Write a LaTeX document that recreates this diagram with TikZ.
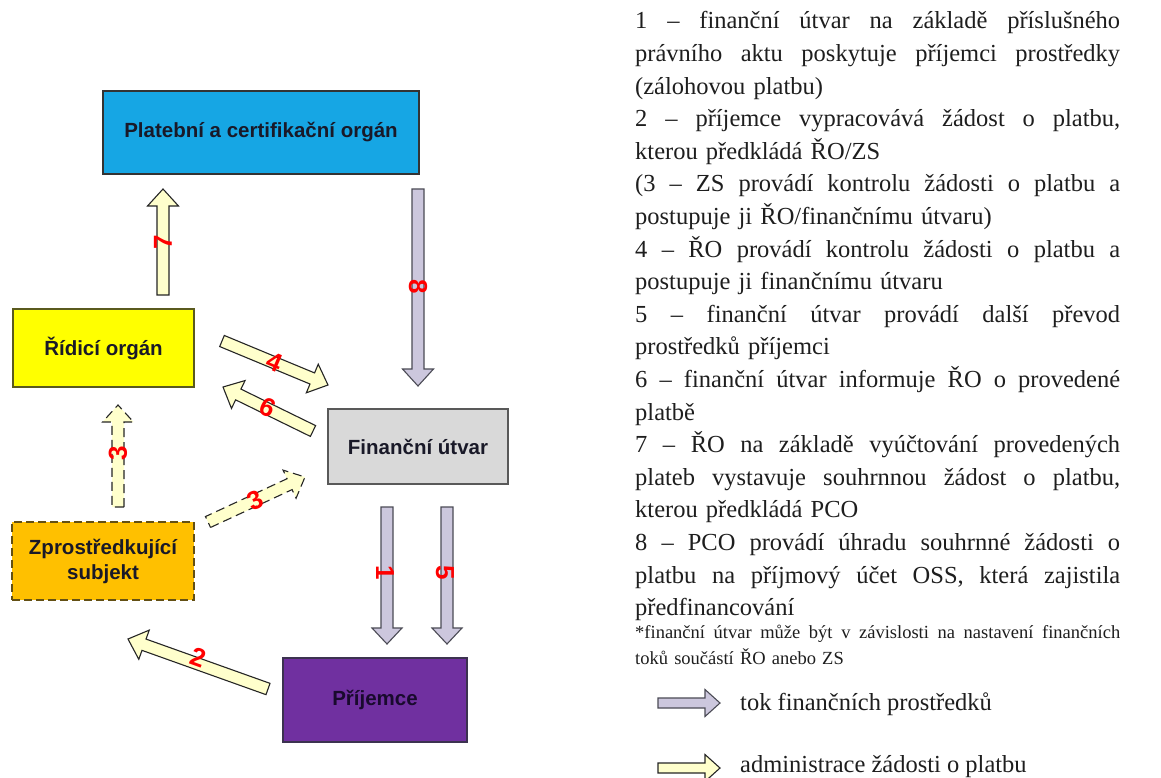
\documentclass[tikz,border=0pt]{standalone}
\usepackage{fontspec}
\setmainfont{Liberation Serif}
\newfontfamily\arialf{Liberation Sans}
\usetikzlibrary{calc}
\definecolor{pcofill}{RGB}{22,166,228}
\definecolor{rofill}{RGB}{255,255,0}
\definecolor{roline}{RGB}{90,90,30}
\definecolor{fufill}{RGB}{217,217,217}
\definecolor{zsfill}{RGB}{255,192,0}
\definecolor{zsline}{RGB}{100,80,20}
\definecolor{prfill}{RGB}{112,48,160}
\definecolor{prline}{RGB}{60,50,80}
\definecolor{prtext}{RGB}{25,10,45}
\definecolor{yarrow}{RGB}{255,255,204}
\definecolor{garrow}{RGB}{204,199,221}
\definecolor{garrowline}{RGB}{75,75,85}
\definecolor{boxtext}{RGB}{25,25,40}
\definecolor{bodytext}{RGB}{30,30,30}
\newcommand\blockarrow[6]{%
  \path let \p1=(#2), \p2=(#3) in \pgfextra{%
    \pgfmathsetmacro\BAang{atan2(\y2-\y1,\x2-\x1)}%
    \pgfmathsetmacro\BAlen{veclen(\x2-\x1,\y2-\y1)}%
    \xdef\BAang{\BAang}\xdef\BAlen{\BAlen}}; 
  \draw[#1, shift={(#2)}, rotate=\BAang]
    (0pt,-#4pt) -- ({(\BAlen-#6)*1pt},-#4pt) -- ({(\BAlen-#6)*1pt},-#5pt)
    -- ({\BAlen*1pt},0pt) -- ({(\BAlen-#6)*1pt},#5pt) -- ({(\BAlen-#6)*1pt},#4pt)
    -- (0pt,#4pt) -- cycle;
}
\newcommand\jline[1]{\noindent\hbox to 485pt{\spaceskip=0.25em plus 1fil\relax #1}\par}
\newcommand\lastline[1]{\noindent\hbox{#1}\par}
\begin{document}
\begin{tikzpicture}[x=1pt,y=-1pt,
  box/.style={draw, line width=1.3pt, inner sep=0pt, align=center, text=boxtext,
    font=\arialf\bfseries\fontsize{20.5}{25}\selectfont},
  yarr/.style={fill=yarrow, draw=black!85, line width=1.1pt, line join=miter},
  yarrdash/.style={yarr, dash pattern=on 9pt off 5pt},
  garr/.style={fill=garrow, draw=garrowline, line width=1.1pt, line join=miter},
  lbl/.style={text=red, inner sep=0pt, font=\arialf\bfseries\fontsize{26}{26}\selectfont},
  body/.style={inner sep=0pt, text width=485pt, align=left, text=bodytext,
    font=\fontsize{24.5}{32.6}\selectfont}]
\useasboundingbox (0,0) rectangle (1161,778);
\fill[white] (0,0) rectangle (1161,778);
% boxes
\node[box, fill=pcofill, draw=black!80, minimum width=316pt, minimum height=83pt] (pco) at (261,132.5) {Platební a certifikační orgán};
\node[box, fill=rofill, draw=roline, minimum width=181pt, minimum height=78pt] (ro) at (103.5,348) {Řídicí orgán};
\node[box, fill=fufill, draw=black!65, minimum width=180pt, minimum height=75pt] (fu) at (418,446.5) {Finanční útvar};
\node[box, fill=zsfill, draw=zsline, dash pattern=on 8pt off 4pt, minimum width=182pt, minimum height=78pt] (zs) at (103,561) {Zprostředkující\\subjekt};
\node[box, fill=prfill, draw=prline, text=prtext, minimum width=184pt, minimum height=84pt] (pr) at (375,700) {Příjemce};
% arrow end points
\coordinate (a7s) at (163,295); \coordinate (a7e) at (163,189);
\coordinate (a8s) at (418,189); \coordinate (a8e) at (418,386);
\coordinate (a1s) at (387,507); \coordinate (a1e) at (387,644);
\coordinate (a5s) at (447,507); \coordinate (a5e) at (447,644);
\coordinate (a4s) at (222,341); \coordinate (a4e) at (328,385);
\coordinate (a6s) at (313,431); \coordinate (a6e) at (223,387);
\coordinate (a3vs) at (118,507); \coordinate (a3ve) at (118,405);
\coordinate (a3ds) at (208,522); \coordinate (a3de) at (305,477);
\coordinate (a2s) at (268,689); \coordinate (a2e) at (128,639);
% arrows
\blockarrow{yarr}{a7s}{a7e}{6}{15.5}{17}
\blockarrow{garr}{a8s}{a8e}{6}{15.5}{17}
\blockarrow{garr}{a1s}{a1e}{6}{15}{16}
\blockarrow{garr}{a5s}{a5e}{6}{15}{16}
\blockarrow{yarr}{a4s}{a4e}{6}{15.5}{17}
\blockarrow{yarr}{a6s}{a6e}{6}{15.5}{17}
\blockarrow{yarrdash}{a3vs}{a3ve}{6}{15.5}{17}
\blockarrow{yarrdash}{a3ds}{a3de}{6}{15.5}{17}
\blockarrow{yarr}{a2s}{a2e}{6}{15.5}{17}
% labels
\node[lbl, rotate=90] (l7) at (163,242) {7};
\node[lbl, rotate=-90] (l8) at (418,287) {8};
\node[lbl, rotate=-90] (l1) at (385,573) {1};
\node[lbl, rotate=-90] (l5) at (445,573) {5};
\node[lbl, rotate=-23] (l4) at (275,362) {4};
\node[lbl, rotate=-25] (l6) at (268,407) {6};
\node[lbl, rotate=25] (l3d) at (255,500) {3};
\node[lbl, rotate=90] (l3v) at (118,453) {3};
\node[lbl, rotate=-20] (l2) at (198,657) {2};
% description
\node[body, anchor=base west] (desc) at (635,29) {%
\jline{1 – finanční útvar na základě příslušného}
\jline{právního aktu poskytuje příjemci prostředky}
\lastline{(zálohovou platbu)}
\jline{2 – příjemce vypracovává žádost o platbu,}
\lastline{kterou předkládá ŘO/ZS}
\jline{(3 – ZS provádí kontrolu žádosti o platbu a}
\lastline{postupuje ji ŘO/finančnímu útvaru)}
\jline{4 – ŘO provádí kontrolu žádosti o platbu a}
\lastline{postupuje ji finančnímu útvaru}
\jline{5 – finanční útvar provádí další převod}
\lastline{prostředků příjemci}
\jline{6 – finanční útvar informuje ŘO o provedené}
\lastline{platbě}
\jline{7 – ŘO na základě vyúčtování provedených}
\jline{plateb vystavuje souhrnnou žádost o platbu,}
\lastline{kterou předkládá PCO}
\jline{8 – PCO provádí úhradu souhrnné žádosti o}
\jline{platbu na příjmový účet OSS, která zajistila}
\lastline{předfinancování}};
\node[body, anchor=base west, font=\fontsize{18.5}{26}\selectfont] (note) at (635,638) {%
\jline{*finanční útvar může být v závislosti na nastavení finančních}
\lastline{toků součástí ŘO anebo ZS}};
% legend
\coordinate (lg1s) at (658,703); \coordinate (lg1e) at (720,703);
\coordinate (lg2s) at (658,768); \coordinate (lg2e) at (720,768);
\blockarrow{garr}{lg1s}{lg1e}{5}{13.5}{15}
\blockarrow{yarr}{lg2s}{lg2e}{5}{13.5}{15}
\node[inner sep=0pt, anchor=base west, text=bodytext, font=\fontsize{24.5}{30}\selectfont] (lt1) at (740,710) {tok finančních prostředků};
\node[inner sep=0pt, anchor=base west, text=bodytext, font=\fontsize{24.5}{30}\selectfont] (lt2) at (740,772) {administrace žádosti o platbu};
\end{tikzpicture}
\end{document}
